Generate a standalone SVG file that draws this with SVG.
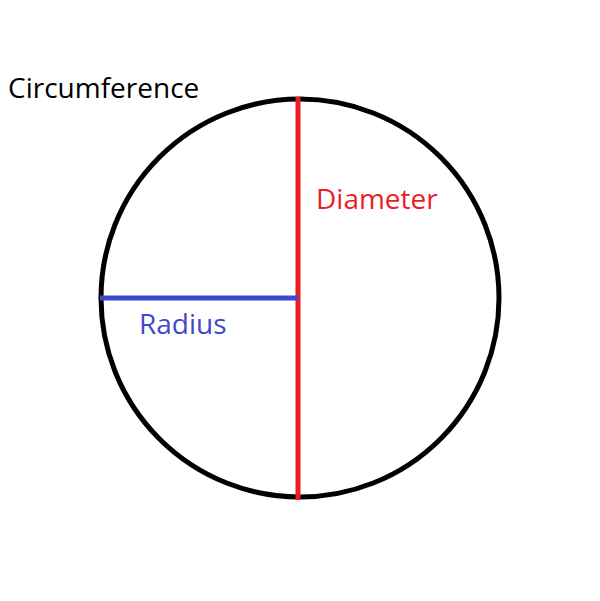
<svg xmlns="http://www.w3.org/2000/svg" width="600" height="601" viewBox="0 0 600 601">
<style>text{font-family:"Open Sans","DejaVu Sans",sans-serif;font-size:28px}</style>
<rect width="600" height="601" fill="#fff"/>
<g id="circle"><circle cx="300" cy="298" r="199" fill="none" stroke="#000" stroke-width="5"/></g>
<g id="connectors">
<line x1="298" y1="97" x2="298" y2="500" stroke="#ed1c24" stroke-width="5"/>
<line x1="100" y1="298" x2="298" y2="298" stroke="#3f48cc" stroke-width="5"/>
</g>
<g id="labels">
<text x="8" y="98" fill="#000">Circumference</text>
<text x="316" y="209" fill="#ed1c24">Diameter</text>
<text x="139" y="334" fill="#3f48cc">Radius</text>
</g>
</svg>
